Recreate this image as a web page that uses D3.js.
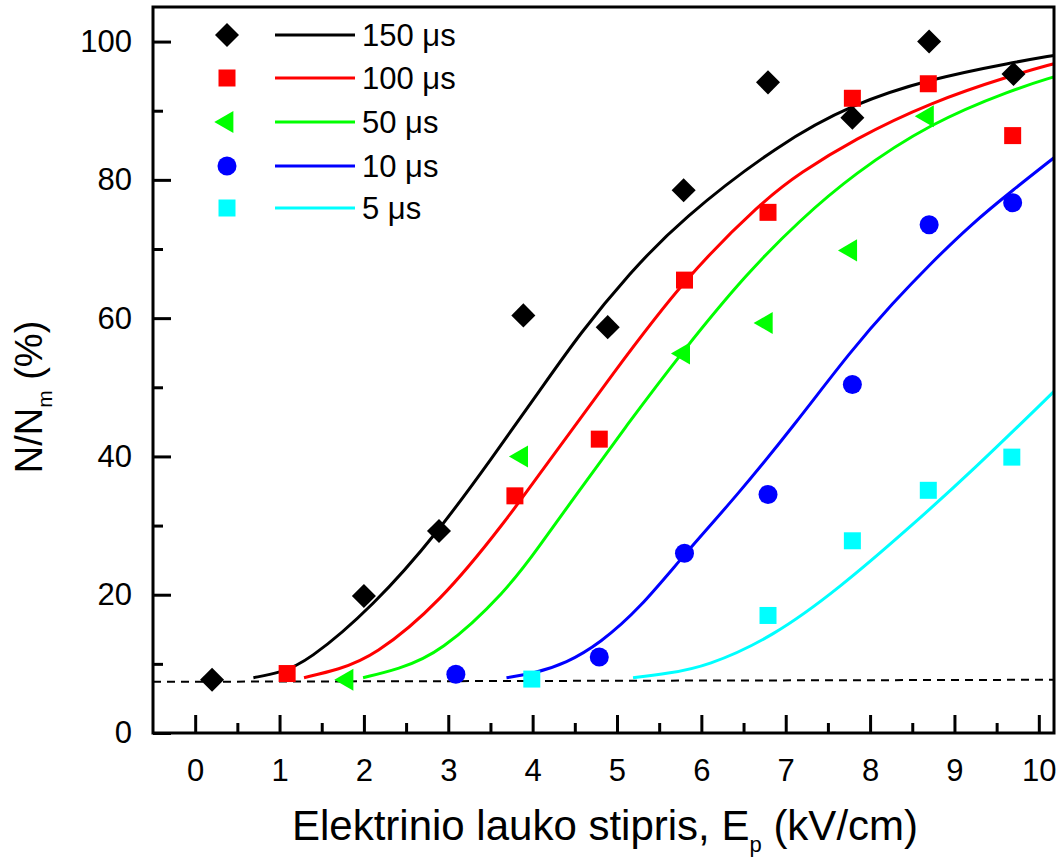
<!DOCTYPE html>
<html>
<head>
<meta charset="utf-8">
<script src="https://cdn.jsdelivr.net/npm/d3@7"></script>
<style>
html,body{margin:0;padding:0;background:#fff;}
svg{display:block;}
text{font-family:"Liberation Sans",Arial,sans-serif;fill:#000;}
</style>
</head>
<body>
<svg id="chart" width="1062" height="858"></svg>
<script>
// ---- data ----
const seriesNames = ["150 μs", "100 μs", "50 μs", "10 μs", "5 μs"];
const seriesColors = ["#000000", "#ff0000", "#00ff00", "#0000ff", "#00ffff"];
const seriesShapes = ["diamond", "square", "triangle", "circle", "square"];

// measured points [E, N/Nm]
const pts150 = [[0.2,7.7],[2.0,19.8],[2.89,29.2],[3.89,60.4],[4.89,58.7],[5.79,78.5],[6.79,94.1],[7.79,89.0],[8.7,100.0],[9.7,95.3]];
const pts100 = [[1.09,8.6],[3.79,34.3],[4.79,42.5],[5.8,65.5],[6.79,75.3],[7.79,91.8],[8.69,93.9],[9.69,86.4]];
const pts50  = [[1.8,7.7],[3.87,40.0],[5.79,54.9],[6.77,59.3],[7.77,69.8],[8.68,89.2]];
const pts10  = [[3.09,8.5],[4.79,11.0],[5.8,26.0],[6.79,34.5],[7.79,50.4],[8.7,73.5],[9.69,76.7]];
const pts5   = [[3.99,7.8],[6.79,17.0],[7.79,27.8],[8.69,35.1],[9.68,39.9]];

// fitted curves
const fit150 = [[0.69,8.0],[1.0,8.7],[1.32,10.2],[2.11,18.3],[2.89,29.2],[3.53,40.0],[4.09,49.6],[4.56,57.8],[5.15,66.5],[5.75,74.2],[6.93,85.3],[7.80,91.0],[8.71,94.6],[9.70,97.0],[10.18,98.0]];
const fit100 = [[1.29,8.0],[1.7,9.2],[2.11,11.0],[2.90,18.8],[3.69,30.8],[4.09,37.6],[4.96,52.1],[5.79,65.6],[6.73,77.0],[7.17,81.0],[7.80,85.8],[8.71,91.2],[9.70,95.2],[10.18,96.8]];
const fit50  = [[1.99,8.0],[2.4,9.2],[2.90,11.5],[3.69,20.5],[4.09,27.2],[4.46,33.5],[5.12,44.6],[5.79,55.4],[6.54,66.5],[7.17,74.2],[7.80,80.8],[8.71,88.2],[9.70,93.1],[10.18,94.9]];
const fit10  = [[3.69,8.0],[4.01,8.6],[4.40,10.1],[4.80,13.0],[5.27,18.0],[5.81,26.0],[6.42,34.3],[7.10,44.5],[7.78,55.4],[8.27,62.2],[8.71,67.8],[9.20,73.6],[9.70,78.6],[10.18,83.2]];
const fit5   = [[5.19,8.0],[5.6,8.6],[6.06,9.6],[6.85,13.9],[7.64,21.0],[8.43,29.3],[9.22,38.0],[10.18,49.4]];

const baseline = [[-0.5,7.4],[10.18,7.7]];

const xTicks = [0,1,2,3,4,5,6,7,8,9,10];
const xMinor = [0.5,1.5,2.5,3.5,4.5,5.5,6.5,7.5,8.5,9.5];
const yTicks = [0,20,40,60,80,100];
const yMinor = [10,30,50,70,90];

const allPts = [pts150, pts100, pts50, pts10, pts5];
const allFits = [fit150, fit100, fit50, fit10, fit5];

// ---- layout ----
const svg = d3.select("#chart");
const L = 153, R = 1054, T = 7, B = 733;
const x = d3.scaleLinear().domain([-0.5, 10.18]).range([L, R]);
const y = d3.scaleLinear().domain([0, 105]).range([B, T]);

const line = d3.line().x(d => x(d[0])).y(d => y(d[1])).curve(d3.curveBasis);

// dashed baseline
svg.append("path").datum(baseline)
  .attr("d", d3.line().x(d => x(d[0])).y(d => y(d[1])))
  .attr("fill","none").attr("stroke","#000").attr("stroke-width",2)
  .attr("stroke-dasharray","8,6");

// curves
allFits.forEach((f, i) => {
  svg.append("path").datum(f).attr("d", line)
    .attr("fill","none").attr("stroke", seriesColors[i]).attr("stroke-width",3);
});

function symbolPath(shape){
  if (shape === "diamond") return d3.symbol(d3.symbolSquare, 289)();
  if (shape === "square") return d3.symbol(d3.symbolSquare, 289)();
  if (shape === "circle") return d3.symbol(d3.symbolCircle, 284)();
  if (shape === "triangle") return d3.symbol(d3.symbolTriangle, 210)();
}
function symbolRot(shape){
  if (shape === "diamond") return 45;
  if (shape === "triangle") return -90;
  return 0;
}

// points
allPts.forEach((p, i) => {
  const sh = seriesShapes[i];
  svg.append("g").selectAll("path").data(p).join("path")
    .attr("d", symbolPath(sh))
    .attr("transform", d => `translate(${x(d[0])},${y(d[1])}) rotate(${symbolRot(sh)})`)
    .attr("fill", seriesColors[i]);
});

// frame
svg.append("rect").attr("x",L).attr("y",T).attr("width",R-L).attr("height",B-T)
  .attr("fill","none").attr("stroke","#000").attr("stroke-width",3);

// axes with inward ticks
const xAxis = d3.axisBottom(x).tickValues(xTicks).tickSize(-18).tickPadding(30).tickFormat(d3.format("d"));
const gx = svg.append("g").attr("transform",`translate(0,${B})`).call(xAxis);
gx.select(".domain").remove();
gx.selectAll(".tick line").attr("stroke","#000").attr("stroke-width",3);
gx.selectAll(".tick text").attr("font-size",31).attr("font-family","Liberation Sans, Arial, sans-serif").attr("dy","0.71em").attr("y",26);
const xAxisMinor = d3.axisBottom(x).tickValues(xMinor).tickSize(-10).tickFormat("");
const gxm = svg.append("g").attr("transform",`translate(0,${B})`).call(xAxisMinor);
gxm.select(".domain").remove();
gxm.selectAll(".tick line").attr("stroke","#000").attr("stroke-width",3);

const yAxis = d3.axisLeft(y).tickValues(yTicks).tickSize(-18).tickPadding(22).tickFormat(d3.format("d"));
const gy = svg.append("g").attr("transform",`translate(${L},0)`).call(yAxis);
gy.select(".domain").remove();
gy.selectAll(".tick line").attr("stroke","#000").attr("stroke-width",3);
gy.selectAll(".tick text").attr("font-size",31).attr("font-family","Liberation Sans, Arial, sans-serif").attr("x",-21);
const yAxisMinor = d3.axisLeft(y).tickValues(yMinor).tickSize(-10).tickFormat("");
const gym = svg.append("g").attr("transform",`translate(${L},0)`).call(yAxisMinor);
gym.select(".domain").remove();
gym.selectAll(".tick line").attr("stroke","#000").attr("stroke-width",3);

// axis titles
const xt = svg.append("text").attr("x", 605).attr("y", 840).attr("text-anchor","middle").attr("font-size",42);
xt.append("tspan").text("Elektrinio lauko stipris, E");
xt.append("tspan").text("p").attr("font-size",22).attr("dy",12);
xt.append("tspan").text(" (kV/cm)").attr("dy",-12);

const yt = svg.append("text").attr("transform","translate(42,397) rotate(-90)").attr("text-anchor","middle").attr("font-size",38);
yt.append("tspan").text("N/N");
yt.append("tspan").text("m").attr("font-size",21).attr("dy",10);
yt.append("tspan").text(" (%)").attr("dy",-10);

// legend
const legY = [35, 78, 122, 166, 208];
seriesNames.forEach((nm, i) => {
  const g = svg.append("g").attr("transform", `translate(0,${legY[i]})`);
  const sh = seriesShapes[i];
  g.append("path").attr("d", symbolPath(sh))
    .attr("transform", `translate(227,0) rotate(${symbolRot(sh)})`).attr("fill", seriesColors[i]);
  g.append("line").attr("x1",275).attr("x2",355).attr("y1",0).attr("y2",0)
    .attr("stroke", seriesColors[i]).attr("stroke-width",3);
  g.append("text").attr("x",362).attr("y",11).attr("font-size",31).text(nm);
});
</script>
</body>
</html>
